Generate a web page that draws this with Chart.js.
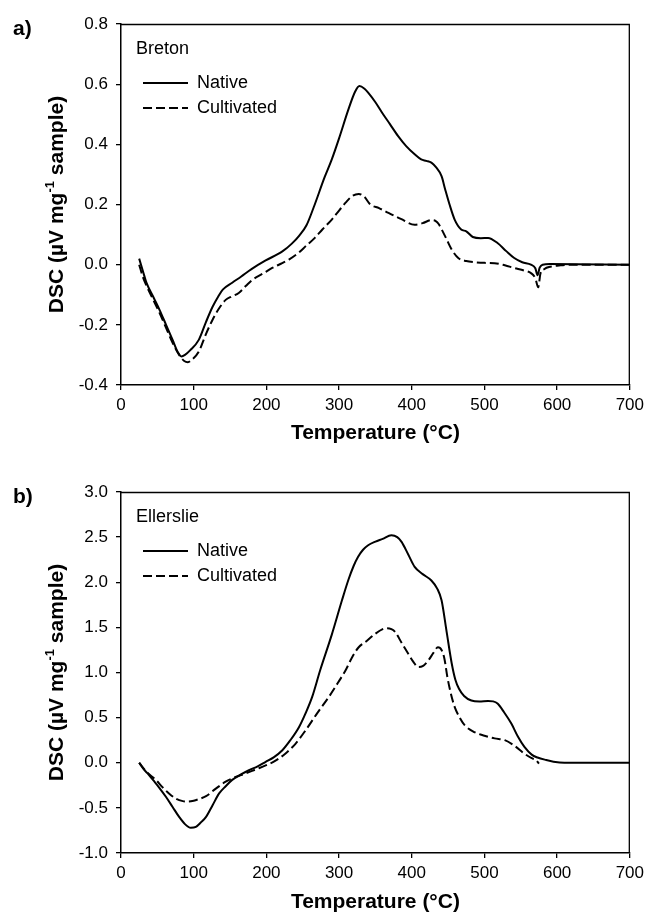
<!DOCTYPE html>
<html><head><meta charset="utf-8">
<script src="https://cdn.jsdelivr.net/npm/chart.js@4.4.1/dist/chart.umd.min.js"></script>
<style>
html,body{margin:0;padding:0;background:#fff;width:649px;height:915px;overflow:hidden}
.box{position:absolute;left:0;width:649px}
canvas{display:block}
</style></head><body>
<div class="box" style="top:0;height:457px"><canvas id="c1" width="649" height="457"></canvas></div>
<div class="box" style="top:457px;height:458px"><canvas id="c2" width="649" height="458"></canvas></div>
<script>
// ---------- data ----------
const xTicks = [0, 100, 200, 300, 400, 500, 600, 700];
const bretonYTicks = [-0.4, -0.2, 0.0, 0.2, 0.4, 0.6, 0.8];
const ellerslieYTicks = [-1.0, -0.5, 0.0, 0.5, 1.0, 1.5, 2.0, 2.5, 3.0];
const seriesNames = ['Native', 'Cultivated'];

// Breton – Native
const bretonNativeT = [25,30,35,45,53,62,71,78,83,88,95,107,117,126,134,140,153,165,180,199,222,235,245,255,265,280,290,300,313,322,328,335,340,350,359,370,381,392,404,413,420,427,433,441,446,452,459,468,475,484,495,505,518,530,541,552,564,570,573,576,580,590,700];
const bretonNativeV = [0.02,-0.02,-0.06,-0.11,-0.15,-0.20,-0.25,-0.29,-0.305,-0.30,-0.285,-0.25,-0.19,-0.14,-0.105,-0.083,-0.06,-0.04,-0.014,0.014,0.044,0.07,0.096,0.13,0.19,0.29,0.35,0.42,0.517,0.575,0.594,0.585,0.572,0.54,0.506,0.467,0.428,0.395,0.367,0.35,0.345,0.339,0.325,0.294,0.25,0.20,0.15,0.117,0.111,0.092,0.088,0.089,0.072,0.045,0.022,0.008,0.0,-0.012,-0.035,-0.01,0.0,0.002,0.0];
// Breton – Cultivated
const bretonCultT = [25,30,35,45,53,62,71,80,87,92,98,107,117,126,135,144,153,162,172,181,195,208,220,231,244,254,267,277,290,300,309,318,327,335,343,355,368,385,404,415,427,433,437,446,455,464,475,487,500,514,528,541,555,564,570,574,577,582,592,605,620,700];
const bretonCultV = [0.0,-0.04,-0.07,-0.12,-0.16,-0.21,-0.26,-0.30,-0.32,-0.324,-0.315,-0.289,-0.23,-0.183,-0.145,-0.117,-0.105,-0.094,-0.07,-0.05,-0.03,-0.011,0.003,0.017,0.039,0.061,0.09,0.117,0.15,0.18,0.206,0.228,0.235,0.225,0.2,0.188,0.172,0.152,0.133,0.138,0.148,0.145,0.135,0.094,0.05,0.022,0.012,0.008,0.006,0.005,-0.002,-0.011,-0.02,-0.028,-0.045,-0.075,-0.03,-0.015,-0.006,-0.002,0.0,0.0];

// Ellerslie – Native
const ellNativeT = [25,32,38,44,53,62,71,80,88,96,103,110,117,126,135,144,153,165,176,188,199,210,222,233,245,254,263,274,290,304,313,320,326,333,340,350,360,372,380,386,395,404,415,427,435,441,448,455,460,465,472,482,493,505,512,518,527,537,546,555,565,573,585,595,610,700];
const ellNativeV = [0.0,-0.08,-0.13,-0.19,-0.28,-0.38,-0.49,-0.6,-0.68,-0.72,-0.71,-0.66,-0.6,-0.47,-0.34,-0.26,-0.19,-0.13,-0.083,-0.04,0.01,0.06,0.139,0.25,0.397,0.55,0.73,1.025,1.42,1.8,2.03,2.18,2.28,2.36,2.41,2.45,2.48,2.52,2.5,2.447,2.31,2.17,2.09,2.02,1.93,1.80,1.45,1.1,0.92,0.82,0.74,0.69,0.68,0.685,0.68,0.656,0.56,0.434,0.29,0.175,0.09,0.058,0.03,0.012,0.0,0.0];
// Ellerslie – Cultivated
const ellCultT = [25,35,48,57,66,76,85,92,100,108,117,130,144,157,171,185,199,212,226,240,254,270,286,298,309,318,327,338,350,360,366,372,377,386,395,402,409,415,423,430,436,441,445,449,454,459,466,473,486,500,514,528,541,555,565,571,575];
const ellCultV = [0.0,-0.1,-0.19,-0.27,-0.34,-0.4,-0.425,-0.43,-0.42,-0.4,-0.37,-0.29,-0.21,-0.16,-0.12,-0.075,-0.03,0.02,0.1,0.21,0.36,0.55,0.73,0.88,1.025,1.17,1.28,1.35,1.43,1.48,1.49,1.48,1.45,1.33,1.21,1.12,1.06,1.07,1.136,1.22,1.28,1.25,1.15,0.95,0.76,0.62,0.5,0.415,0.34,0.30,0.27,0.25,0.19,0.1,0.05,0.028,-0.01];

// ---------- rendering ----------
Chart.defaults.font.family = "'Liberation Sans', Arial, sans-serif";
Chart.defaults.color = '#000';

const pts = (T, V) => T.map((t, i) => ({x: t, y: V[i]}));

const decoPlugin = {
  id: 'deco',
  afterLayout(chart, args, o) {
    const lg = chart.legend;
    if (lg) {
      const dy = chart.chartArea.top - lg.top;
      lg.left += o.legendShift; lg.right += o.legendShift;
      lg.top += dy; lg.bottom += dy;
    }
  },
  afterDraw(chart, args, o) {
    const {ctx, chartArea: a} = chart;
    ctx.save();
    // frame (top + right)
    ctx.strokeStyle = '#000';
    ctx.lineWidth = 1.3;
    ctx.beginPath();
    ctx.moveTo(a.left, a.top + 0.5);
    ctx.lineTo(a.right - 0.5, a.top + 0.5);
    ctx.lineTo(a.right - 0.5, a.bottom);
    ctx.stroke();
    // panel label
    ctx.fillStyle = '#000';
    ctx.font = "bold 21px 'Liberation Sans', Arial, sans-serif";
    ctx.textBaseline = 'middle';
    ctx.textAlign = 'left';
    ctx.fillText(o.label, o.labelX, o.labelY);
    // y axis title with superscript
    const p1 = 'DSC (\u00B5V mg', sup = '-1', p3 = ' sample)';
    const big = "bold 21px 'Liberation Sans', Arial, sans-serif";
    const small = "bold 13px 'Liberation Sans', Arial, sans-serif";
    ctx.font = big; const w1 = ctx.measureText(p1).width, w3 = ctx.measureText(p3).width;
    ctx.font = small; const w2 = ctx.measureText(sup).width;
    const total = w1 + w2 + w3;
    ctx.translate(o.titleX, (a.top + a.bottom) / 2);
    ctx.rotate(-Math.PI / 2);
    let x = -total / 2;
    ctx.font = big; ctx.fillText(p1, x, 0); x += w1;
    ctx.font = small; ctx.fillText(sup, x, -7); x += w2;
    ctx.font = big; ctx.fillText(p3, x, 0);
    ctx.restore();
  }
};

function legendLabels(chart) {
  const items = Chart.defaults.plugins.legend.labels.generateLabels(chart);
  items.forEach(it => {
    const ds = chart.data.datasets[it.datasetIndex];
    it.lineDash = ds.borderDash || [];
    it.lineWidth = ds.borderWidth;
    it.strokeStyle = ds.borderColor;
    it.pointStyle = 'line';
  });
  return items;
}

function makeChart(id, cfg) {
  const canvas = document.getElementById(id);
  const H = canvas.height;
  return new Chart(canvas, {
    type: 'line',
    data: {
      datasets: [
        {label: seriesNames[0], data: pts(cfg.nT, cfg.nV), borderColor: '#000', backgroundColor: '#000',
         borderWidth: 2, pointRadius: 0, cubicInterpolationMode: 'monotone', fill: false},
        {label: seriesNames[1], data: pts(cfg.cT, cfg.cV), borderColor: '#000', backgroundColor: '#000',
         borderWidth: 2, borderDash: [9, 4], pointRadius: 0, cubicInterpolationMode: 'monotone', fill: false}
      ]
    },
    options: {
      responsive: false,
      animation: false,
      events: [],
      layout: {padding: {left: 0, right: 17, top: cfg.top, bottom: 0}},
      scales: {
        x: {
          type: 'linear', min: 0, max: 700,
          afterBuildTicks: s => { s.ticks = xTicks.map(v => ({value: v})); },
          afterFit: s => { s.height = H - cfg.bottom; },
          ticks: {font: {size: 17}, color: '#000', padding: 5, maxRotation: 0, callback: v => String(v)},
          grid: {display: true, drawOnChartArea: false, drawTicks: true, tickLength: 5, color: '#000', lineWidth: 1.3},
          border: {display: true, color: '#000', width: 1.5},
          title: {display: true, text: 'Temperature (\u00B0C)', font: {size: 21, weight: 'bold'}, color: '#000',
                  padding: {top: 0, bottom: cfg.xTitlePad}}
        },
        y: {
          type: 'linear', min: cfg.yTicks[0], max: cfg.yTicks[cfg.yTicks.length - 1],
          afterBuildTicks: s => { s.ticks = cfg.yTicks.map(v => ({value: v})); },
          afterFit: s => { s.width = 121; },
          ticks: {font: {size: 17}, color: '#000', padding: 8,
                  callback: v => (Math.abs(v) < 1e-9 ? 0 : v).toFixed(1)},
          grid: {display: true, drawOnChartArea: false, drawTicks: true, tickLength: 5, color: '#000', lineWidth: 1.3},
          border: {display: true, color: '#000', width: 1.5}
        }
      },
      plugins: {
        tooltip: {enabled: false},
        legend: {
          display: true, position: 'chartArea', align: 'start',
          labels: {usePointStyle: true, pointStyle: 'line', pointStyleWidth: 45, font: {size: 18}, color: '#000', padding: 7,
                   generateLabels: legendLabels},
          title: {display: true, text: cfg.site, font: {size: 18}, color: '#000', position: 'start',
                  padding: {top: 16, bottom: 5.4}}
        },
        deco: {label: cfg.label, labelX: 13, labelY: cfg.labelY, titleX: 57, legendShift: 15}
      }
    },
    plugins: [decoPlugin]
  });
}

makeChart('c1', {nT: bretonNativeT, nV: bretonNativeV, cT: bretonCultT, cV: bretonCultV,
  yTicks: bretonYTicks, top: 24, bottom: 385, xTitlePad: 11.4, site: 'Breton', label: 'a)', labelY: 29});
makeChart('c2', {nT: ellNativeT, nV: ellNativeV, cT: ellCultT, cV: ellCultV,
  yTicks: ellerslieYTicks, top: 35, bottom: 396, xTitlePad: 0, site: 'Ellerslie', label: 'b)', labelY: 40.5});
</script>
</body></html>
